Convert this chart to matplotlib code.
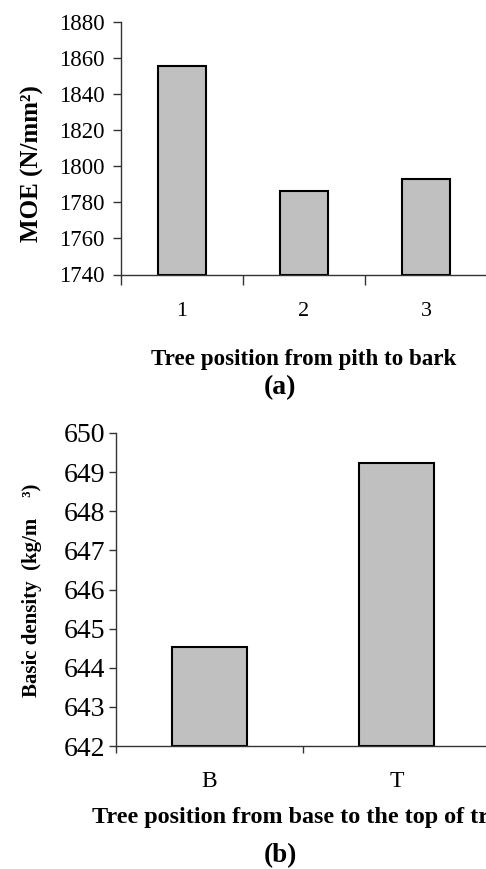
import matplotlib
matplotlib.use("Agg")
import matplotlib.pyplot as plt
import numpy as np

# data
pos_a = ["1", "2", "3"]
moe = [1855.6, 1786.3, 1793.0]

pos_b = ["B", "T"]
density = [644.52, 649.24]

plt.rcParams["font.family"] = ["Liberation Serif", "DejaVu Serif"]

W, H = 486, 869
fig = plt.figure(figsize=(W / 100, H / 100), dpi=100)

BAR_FC = "#c0c0c0"


def px_axes(left, right, top, bottom):
    return fig.add_axes([left / W, 1 - bottom / H, (right - left) / W, (bottom - top) / H])


def style(ax, ylen, xlen, ypad):
    for s in ("top", "right"):
        ax.spines[s].set_visible(False)
    for s in ("left", "bottom"):
        ax.spines[s].set_color("#333333")
        ax.spines[s].set_linewidth(1.0)
    ax.tick_params(axis="y", direction="out", length=ylen, width=1.0, color="#333333", pad=ypad)
    ax.tick_params(axis="x", which="major", direction="out", length=xlen, width=1.0,
                   color="#333333", labelbottom=False)
    ax.tick_params(axis="x", which="minor", length=0)


# (a) MOE
ax1 = px_axes(121, 487, 22, 274.5)
x1 = np.arange(1, len(pos_a) + 1)
ax1.bar(x1, [v - 1740 for v in moe], bottom=1740, width=0.39, color=BAR_FC,
        edgecolor="black", linewidth=1.5)
ax1.set_xlim(0.5, len(pos_a) + 0.5)
ax1.set_ylim(1740, 1880)
ax1.set_yticks(np.arange(1740, 1881, 20))
ax1.set_xticks(np.arange(0.5, len(pos_a) + 0.6, 1))
ax1.set_xticks(x1, minor=True)
ax1.set_xticklabels(pos_a, minor=True, fontsize=16)
style(ax1, 6, 7, 6)
ax1.tick_params(axis="x", which="minor", pad=20)
ax1.tick_params(axis="y", labelsize=16.5)

fig.text(32 / W, 1 - 164 / H, "MOE (N/mm²)", rotation=90, ha="center", va="center",
         fontsize=18, fontweight="bold")
fig.text(304 / W, 1 - 360 / H, "Tree position from pith to bark", ha="center", va="center",
         fontsize=16.6, fontweight="bold")
fig.text(280 / W, 1 - 388 / H, "(a)", ha="center", va="center", fontsize=20, fontweight="bold")

# (b) basic density
ax2 = px_axes(116, 490, 433, 746)
x2 = np.arange(1, len(pos_b) + 1)
ax2.bar(x2, [v - 642 for v in density], bottom=642, width=0.40, color=BAR_FC,
        edgecolor="black", linewidth=1.5)
ax2.set_xlim(0.5, len(pos_b) + 0.5)
ax2.set_ylim(642, 650)
ax2.set_yticks(np.arange(642, 651, 1))
ax2.set_xticks(np.arange(0.5, len(pos_b) + 0.6, 1))
ax2.set_xticks(x2, minor=True)
ax2.set_xticklabels(pos_b, minor=True, fontsize=17)
style(ax2, 5, 5, 3)
ax2.tick_params(axis="x", which="minor", pad=18)
ax2.tick_params(axis="y", labelsize=20)

fig.text(32 / W, 1 - 590 / H, "Basic density  (kg/m    ³)", rotation=90, ha="center",
         va="center", fontsize=15, fontweight="bold")
# the reference cuts this label off at the right edge
fig.text(92 / W, 1 - 817 / H, "Tree position from base to the top of tree", ha="left",
         va="center", fontsize=17.4, fontweight="bold")
fig.text(280 / W, 1 - 856 / H, "(b)", ha="center", va="center", fontsize=19.5, fontweight="bold")

fig.savefig("out.png", dpi=100)
